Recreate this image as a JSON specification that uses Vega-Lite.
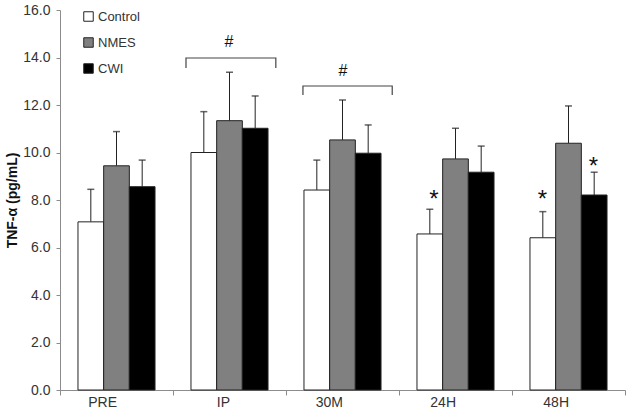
{
  "$schema": "https://vega.github.io/schema/vega-lite/v6.json",
  "width": 565,
  "height": 380,
  "autosize": "none",
  "padding": {"left": 60, "top": 10, "right": 5, "bottom": 27},
  "background": "white",
  "config": {"view": {"stroke": null}, "font": "Liberation Sans"},
  "datasets": {
    "bars": [
      {"time": "PRE", "group": "Control", "value": 7.08, "upper": 8.45},
      {"time": "PRE", "group": "NMES", "value": 9.44, "upper": 10.88},
      {"time": "PRE", "group": "CWI", "value": 8.56, "upper": 9.68},
      {"time": "IP", "group": "Control", "value": 10.0, "upper": 11.72},
      {"time": "IP", "group": "NMES", "value": 11.34, "upper": 13.38},
      {"time": "IP", "group": "CWI", "value": 11.02, "upper": 12.38},
      {"time": "30M", "group": "Control", "value": 8.42, "upper": 9.68},
      {"time": "30M", "group": "NMES", "value": 10.53, "upper": 12.21},
      {"time": "30M", "group": "CWI", "value": 9.97, "upper": 11.16},
      {"time": "24H", "group": "Control", "value": 6.57, "upper": 7.61},
      {"time": "24H", "group": "NMES", "value": 9.73, "upper": 11.02},
      {"time": "24H", "group": "CWI", "value": 9.17, "upper": 10.27},
      {"time": "48H", "group": "Control", "value": 6.41, "upper": 7.51},
      {"time": "48H", "group": "NMES", "value": 10.39, "upper": 11.96},
      {"time": "48H", "group": "CWI", "value": 8.21, "upper": 9.17}
    ],
    "marks": [
      {"pos": 3.31, "y": 8.0, "label": "*", "kind": "star"},
      {"pos": 4.27, "y": 8.0, "label": "*", "kind": "star"},
      {"pos": 4.72, "y": 9.4, "label": "*", "kind": "star"},
      {"pos": 1.496, "y": 14.65, "label": "#", "kind": "hash"},
      {"pos": 2.504, "y": 13.43, "label": "#", "kind": "hash"}
    ],
    "brackets": [
      {"b": "IP", "o": 1, "pos": 1.115, "y": 13.56},
      {"b": "IP", "o": 2, "pos": 1.115, "y": 13.98},
      {"b": "IP", "o": 3, "pos": 1.91, "y": 13.98},
      {"b": "IP", "o": 4, "pos": 1.91, "y": 13.56},
      {"b": "30M", "o": 1, "pos": 2.15, "y": 12.42},
      {"b": "30M", "o": 2, "pos": 2.15, "y": 12.8},
      {"b": "30M", "o": 3, "pos": 2.94, "y": 12.8},
      {"b": "30M", "o": 4, "pos": 2.94, "y": 12.42}
    ]
  },
  "resolve": {"scale": {"x": "independent"}, "axis": {"x": "independent"}},
  "layer": [
    {
      "data": {"name": "bars"},
      "layer": [
        {
          "mark": {"type": "rule", "stroke": "#222222", "strokeWidth": 1},
          "encoding": {
            "x": {"field": "time", "type": "nominal", "sort": ["PRE", "IP", "30M", "24H", "48H"]},
            "xOffset": {"field": "group", "type": "nominal", "sort": ["Control", "NMES", "CWI"]},
            "y": {"field": "value", "type": "quantitative"},
            "y2": {"field": "upper"}
          }
        },
        {
          "mark": {"type": "tick", "color": "#222222", "size": 7, "thickness": 1.5},
          "encoding": {
            "x": {"field": "time", "type": "nominal", "sort": ["PRE", "IP", "30M", "24H", "48H"]},
            "xOffset": {"field": "group", "type": "nominal", "sort": ["Control", "NMES", "CWI"]},
            "y": {"field": "upper", "type": "quantitative"}
          }
        },
        {
          "mark": {"type": "bar", "stroke": "#222222", "strokeWidth": 1},
          "encoding": {
            "x": {
              "field": "time", "type": "nominal",
              "sort": ["PRE", "IP", "30M", "24H", "48H"],
              "scale": {"paddingInner": 0, "paddingOuter": 0},
              "axis": {
                "title": null, "labelAngle": 0, "tickBand": "extent",
                "domainColor": "#8c8c8c", "tickColor": "#8c8c8c", "tickSize": 5,
                "labelFontSize": 14, "labelColor": "#333333", "labelPadding": 7,
                "labelFont": "Liberation Sans"
              }
            },
            "xOffset": {
              "field": "group", "type": "nominal",
              "sort": ["Control", "NMES", "CWI"],
              "scale": {"paddingInner": 0, "paddingOuter": 0.7}
            },
            "y": {
              "field": "value", "type": "quantitative",
              "scale": {"domain": [0, 16], "nice": false},
              "axis": {
                "title": "TNF-α (pg/mL)", "values": [0, 2, 4, 6, 8, 10, 12, 14, 16],
                "format": ".1f", "grid": false,
                "domainColor": "#8c8c8c", "tickColor": "#8c8c8c", "tickSize": 4,
                "labelFontSize": 14, "labelColor": "#333333", "labelPadding": 6,
                "labelFont": "Liberation Sans",
                "titleFont": "Liberation Sans", "titleFontSize": 14, "titleFontWeight": "bold",
                "titleColor": "#111111", "titlePadding": 3
              }
            },
            "fill": {
              "field": "group", "type": "nominal",
              "sort": ["Control", "NMES", "CWI"],
              "scale": {"domain": ["Control", "NMES", "CWI"], "range": ["#ffffff", "#808080", "#000000"]},
              "legend": {
                "title": null, "orient": "none", "legendX": 22, "legendY": 0,
                "symbolType": "square", "symbolSize": 90, "symbolStrokeColor": "#222222",
                "symbolStrokeWidth": 1, "labelFontSize": 13, "labelColor": "#333333",
                "labelFont": "Liberation Sans", "rowPadding": 11, "labelOffset": 3
              }
            }
          }
        }
      ]
    },
    {
      "data": {"name": "brackets"},
      "mark": {"type": "line", "stroke": "#444444", "strokeWidth": 1.2},
      "encoding": {
        "x": {"field": "pos", "type": "quantitative", "scale": {"domain": [0, 5], "nice": false, "zero": false}, "axis": null},
        "y": {"field": "y", "type": "quantitative"},
        "detail": {"field": "b"},
        "order": {"field": "o"}
      }
    },
    {
      "data": {"name": "marks"},
      "mark": {"type": "text", "font": "Liberation Sans", "color": "#111111", "baseline": "middle"},
      "encoding": {
        "x": {"field": "pos", "type": "quantitative", "scale": {"domain": [0, 5], "nice": false, "zero": false}, "axis": null},
        "y": {"field": "y", "type": "quantitative"},
        "text": {"field": "label"},
        "size": {"field": "kind", "type": "nominal", "scale": {"domain": ["star", "hash"], "range": [24, 16]}, "legend": null}
      }
    }
  ]
}
